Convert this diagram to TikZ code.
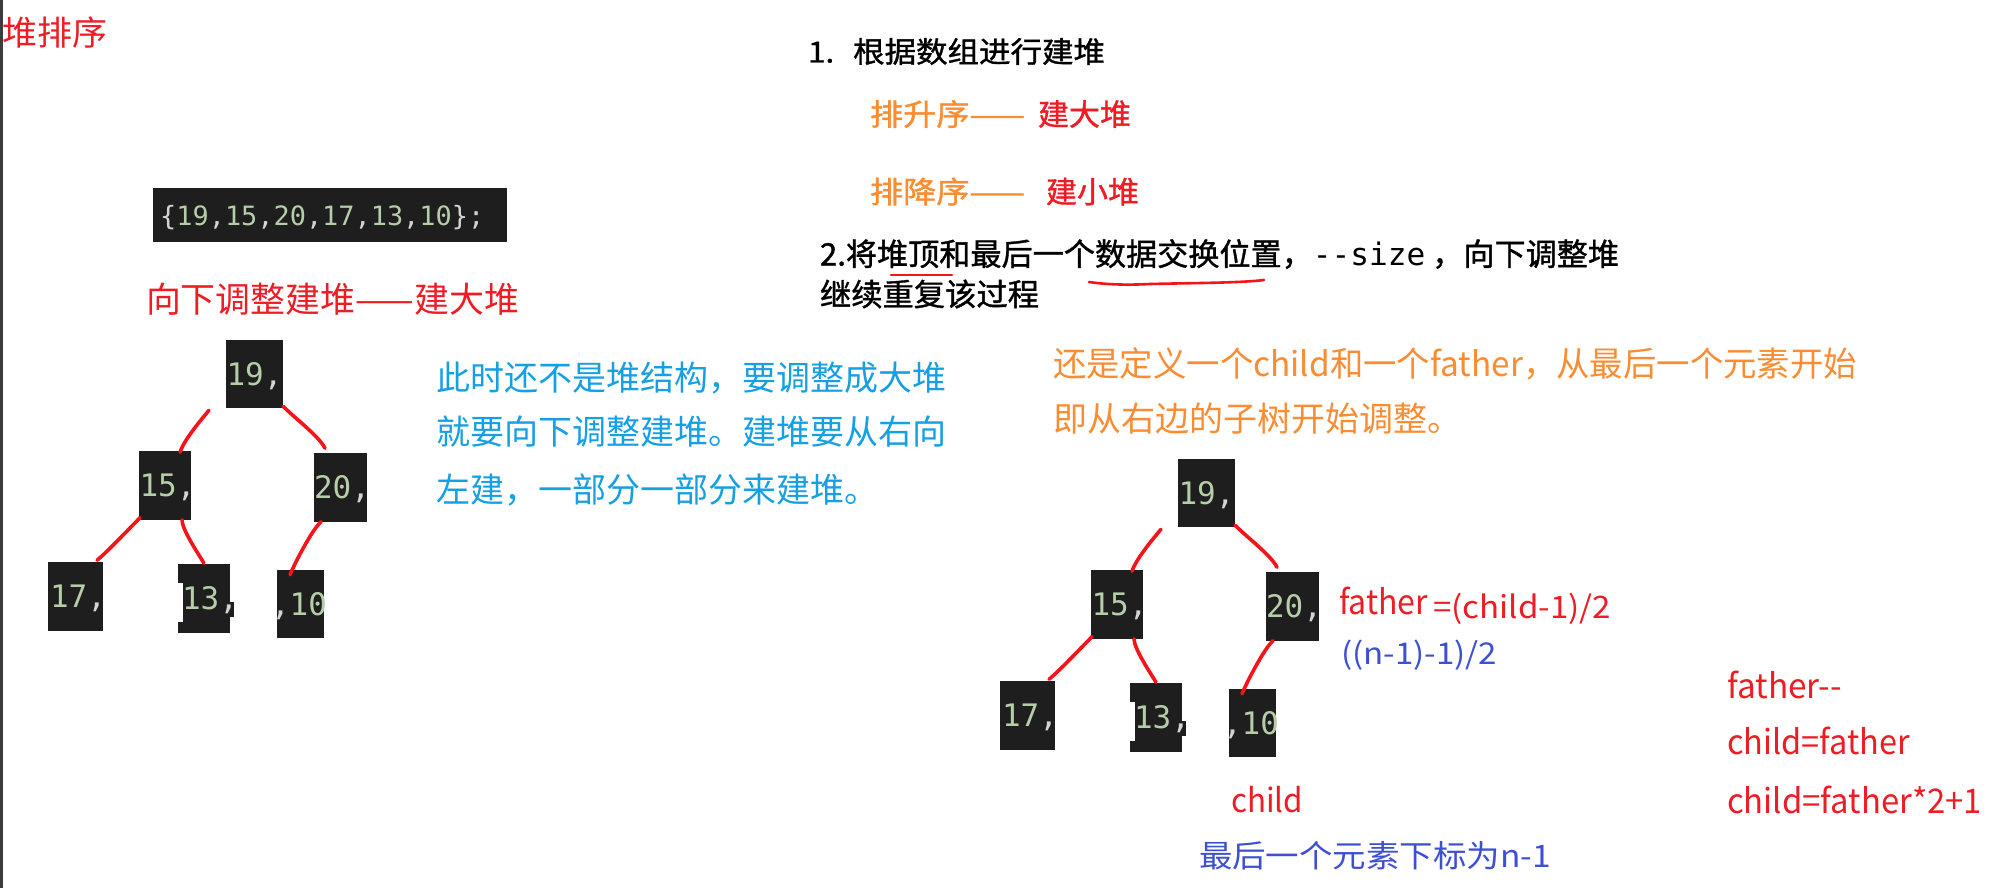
\documentclass[tikz,border=0pt]{standalone}
\usepackage{fontspec}
\usepackage{graphicx}
\setmainfont{Noto Sans CJK SC}
\newfontfamily\blk[FakeBold=1.2]{Noto Sans CJK SC}
\newfontfamily\mono{DejaVu Sans Mono}
\usetikzlibrary{calc}
\definecolor{txred}{RGB}{238,28,36}
\definecolor{lnred}{RGB}{245,20,25}
\definecolor{orng}{RGB}{250,140,50}
\definecolor{lblue}{RGB}{22,160,228}
\definecolor{dblue}{RGB}{62,80,210}
\definecolor{codebg}{RGB}{30,30,30}
\definecolor{numc}{RGB}{181,206,168}
\definecolor{punc}{RGB}{212,212,212}
\definecolor{framec}{RGB}{60,60,60}
\newcommand\fs[1]{\fontsize{#1}{#1}\selectfont}
\newcommand\hfit[2]{\resizebox{#1pt}{\height}{#2}}
\newcommand\nm[1]{\textcolor{numc}{#1}}
\newcommand\pc[1]{\textcolor{punc}{#1}}
\newcommand\heap[3]{%
  \fill[codebg] ({178+#2},{564+#3}) rectangle ++(5,19);
  \fill[codebg] ({178+#2},{622+#3}) rectangle ++(5,11);
  \fill[codebg] ({230+#2},{602+#3}) rectangle ++(3.5,15);
  \node[hbox, minimum width=57pt] (#1n19) at ({254.5+#2},{374+#3}) {\makebox[0pt]{\nm{19}\pc{,}}};
  \node[hbox, minimum width=52pt] (#1n15) at ({165+#2},{485.5+#3}) {\makebox[0pt]{\hspace*{5pt}\nm{15}\pc{,}}};
  \node[hbox, minimum width=53pt] (#1n20) at ({340.5+#2},{487.5+#3}) {\makebox[0pt]{\hspace*{3pt}\nm{20}\pc{,}}};
  \node[hbox, minimum width=55pt] (#1n17) at ({75.5+#2},{596.5+#3}) {\makebox[0pt]{\hspace*{5pt}\nm{17}\pc{,}}};
  \node[hbox, minimum width=47pt] (#1n13) at ({206.5+#2},{598.5+#3}) {\makebox[0pt]{\hspace*{7pt}\nm{13}\pc{,}}};
  \node[hbox, minimum width=47pt] (#1n10) at ({300.5+#2},{604+#3}) {\makebox[0pt]{\hspace*{-3pt}\pc{,}\nm{10}}};
  \draw[edge] ($(#1n19.south west)+(-17,2)$) .. controls +(-10,12) and +(4,-12) .. ($(#1n15.north east)+(-11,1)$);
  \draw[edge] ($(#1n19.south east)+(0,-2)$) .. controls +(12,12) and +(-6,-12) .. ($(#1n20.north west)+(11,-5)$);
  \draw[edge] ($(#1n15.south west)+(1,-2)$) .. controls +(-10,10) and +(10,-8) .. ($(#1n17.north east)+(-6,-2)$);
  \draw[edge] ($(#1n15.south east)+(-9,0)$) .. controls +(0,10) and +(-6,-10) .. ($(#1n13.north)+(-2.5,-1)$);
  \draw[edge] ($(#1n20.south west)+(7,0)$) .. controls +(-9,8) and +(5,-12) .. ($(#1n10.north west)+(13,5)$);
}
\begin{document}
\begin{tikzpicture}[x=1pt,y=-1pt,
  txt/.style={anchor=west, inner sep=0pt, outer sep=0pt},
  hbox/.style={fill=codebg, inner sep=0pt, outer sep=0pt, minimum height=68.5pt,
    text height=22.6pt, text depth=0pt, font=\mono\fs{31}},
  edge/.style={draw=lnred, line width=3.6pt, line cap=round, line join=round},
  uline/.style={draw=lnred, line width=2.6pt, line cap=round}]
\useasboundingbox (0,0) rectangle (1996,888);
\fill[white] (0,0) rectangle (1996,888);
\fill[framec] (0,0) rectangle (2.5,888);

% title
\node[txt, text=txred, font=\fs{34}] (title) at (2,32.5) {\hfit{105}{堆排序}};

% steps
\node[txt, font=\blk\fs{29}] (s1) at (808,51.5) {\hfit{297}{1.\hspace{0.6em}根据数组进行建堆}};
\node[txt, text=orng, font=\blk\fs{30}] (asc) at (870,114) {\hfit{155}{排升序——}};
\node[txt, text=txred, font=\blk\fs{30}] (big) at (1038,114) {\hfit{93}{建大堆}};
\node[txt, text=orng, font=\blk\fs{30}] (desc) at (870,191.5) {\hfit{155}{排降序——}};
\node[txt, text=txred, font=\blk\fs{30}] (small) at (1046,191.5) {\hfit{93}{建小堆}};
\node[txt, font=\blk\fs{31}] (s2) at (820,254) {\hfit{799}{2.将堆顶和最后一个数据交换位置，{\mono -{}-size}\ ，向下调整堆}};
\node[txt, font=\blk\fs{31}] (s3) at (820,294) {\hfit{219}{继续重复该过程}};
\draw[uline] (891,275) -- (952,275);
\draw[uline] (1089,282) .. controls (1110,285) and (1130,285) .. (1150,284) .. controls (1190,283) and (1240,283) .. (1264,280);

% code array
\node[fill=codebg, minimum width=354pt, minimum height=54pt, inner sep=0pt] (codebox) at (330,215) {};
\node[anchor=base west, inner sep=0pt, font=\mono\fs{26.6}] (codetxt) at (160,225)
  {\hfit{324}{\pc{\{}\nm{19}\pc{,}\nm{15}\pc{,}\nm{20}\pc{,}\nm{17}\pc{,}\nm{13}\pc{,}\nm{10}\pc{\};}}};

% heading
\node[txt, text=txred, font=\fs{35}] (head) at (146,299) {\hfit{373}{向下调整建堆——建大堆}};

% blue explanation
\node[txt, text=lblue, font=\fs{34}] (b1) at (436,378.5) {此时还不是堆结构，要调整成大堆};
\node[txt, text=lblue, font=\fs{34}] (b2) at (436,432) {就要向下调整建堆。建堆要从右向};
\node[txt, text=lblue, font=\fs{34}] (b3) at (436,490) {左建，一部分一部分来建堆。};

% orange explanation
\node[txt, text=orng, font=\fs{34}] (o1) at (1053,364) {\hfit{804}{还是定义一个child和一个father，从最后一个元素开始}};
\node[txt, text=orng, font=\fs{34}] (o2) at (1053,419) {即从右边的子树开始调整。};

% trees
\heap{a}{0}{0}
\heap{b}{952}{119}

% formulas
\node[txt, text=txred, font=\fs{34}] (fa) at (1339,600.5) {\hfit{89}{father}};
\node[txt, text=txred, font=\fs{31}] (fb) at (1433,608.5) {\hfit{178}{=(child-1)/2}};
\node[txt, text=dblue, font=\fs{30}] (fc) at (1341,655) {\hfit{156}{((n-1)-1)/2}};
\node[txt, text=txred, font=\fs{34}] (r1) at (1727,684.5) {\hfit{115}{father-{}-}};
\node[txt, text=txred, font=\fs{34}] (r2) at (1727,740.5) {\hfit{183}{child=father}};
\node[txt, text=txred, font=\fs{34}] (r3) at (1727,800) {\hfit{255}{child=father*2+1}};
\node[txt, text=txred, font=\fs{33}] (ch) at (1231,800) {\hfit{72}{child}};
\node[txt, text=dblue, font=\fs{31}] (last) at (1199,856) {\hfit{352}{最后一个元素下标为n-1}};
\end{tikzpicture}
\end{document}
